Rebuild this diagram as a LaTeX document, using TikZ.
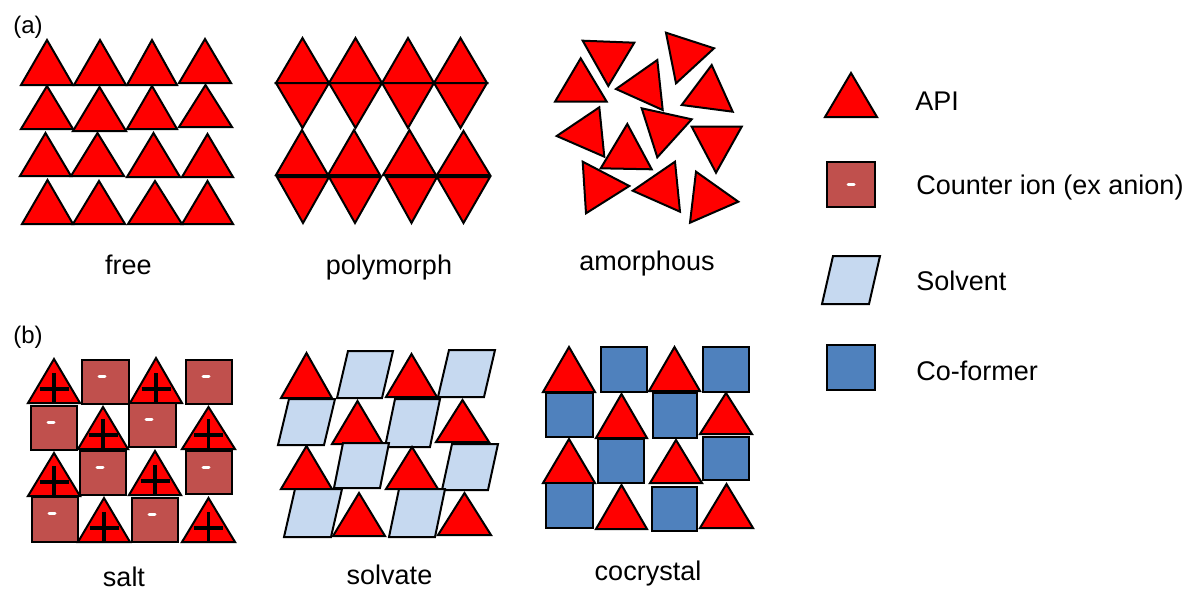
\documentclass[tikz,border=0pt]{standalone}
\usepackage{fontspec}
\setmainfont{Liberation Sans}
\definecolor{apired}{HTML}{FF0000}
\definecolor{ionred}{HTML}{C0504D}
\definecolor{solvblue}{HTML}{C6D9F0}
\definecolor{coblue}{HTML}{4F81BD}
\tikzset{
  api/.style={fill=apired, draw=black, line width=1pt},
  ion/.style={fill=ionred, draw=black, line width=1pt},
  solv/.style={fill=solvblue, draw=black, line width=1pt},
  cof/.style={fill=coblue, draw=black, line width=1pt},
  plusbar/.style={draw=black, line width=1.7pt},
  minusbar/.style={draw=white, line width=1.5pt, line cap=round},
  lbl/.style={font=\fontsize{13.5}{16}\selectfont, inner sep=0pt, anchor=base},
  keytext/.style={font=\fontsize{13.5}{16}\selectfont, inner sep=0pt, anchor=base west},
  panel/.style={font=\fontsize{12}{14}\selectfont, inner sep=0pt, anchor=base west}
}
% upward triangle: left x, right x, apex y, base y
\newcommand\uptri[4]{\filldraw[api] (#1,#4) -- (#2,#4) -- ({(#1+#2)/2},#3) -- cycle;}
% downward triangle: left x, right x, top y, apex y
\newcommand\dntri[4]{\filldraw[api] (#1,#3) -- (#2,#3) -- ({(#1+#2)/2},#4) -- cycle;}
% free triangle given by its three corners
\newcommand\anytri[3]{\filldraw[api] (#1) -- (#2) -- (#3) -- cycle;}
% cation: triangle carrying a plus sign
\newcommand\cation[4]{\uptri{#1}{#2}{#3}{#4}
  \draw[plusbar] ({(#1+#2)/2-14.5},{#4-14}) -- ({(#1+#2)/2+14.5},{#4-14});
  \draw[plusbar] ({(#1+#2)/2},{#4-30}) -- ({(#1+#2)/2},#4);}
% anion: square carrying a minus sign
\newcommand\anion[4]{\filldraw[ion] (#1,#3) rectangle (#2,#4);
  \draw[minusbar] ({#1+17},{#3+16}) -- ({#1+23},{#3+16});}
% co-former square
\newcommand\coform[4]{\filldraw[cof] (#1,#3) rectangle (#2,#4);}
% solvent parallelogram: top-left x, top y, bottom-left x, bottom y, width
\newcommand\solvent[5]{\filldraw[solv] (#1,#2) -- ({#1+#5},#2) -- ({#3+#5},#4) -- (#3,#4) -- cycle;}

\begin{document}
\begin{tikzpicture}[x=0.5pt, y=-0.5pt]
\useasboundingbox (0,0) rectangle (1192,589);

% ---------- (a) free ----------
\node[panel] (pa) at (13,33) {(a)};
\uptri{21}{73}{40}{85}   \uptri{74}{126}{40}{85}  \uptri{127}{177}{40}{85} \uptri{179}{231}{39}{83}
\uptri{21}{73}{86}{129}  \uptri{73}{126}{87}{131} \uptri{127}{177}{86}{129} \uptri{179}{232}{85}{127}
\uptri{20}{71}{133}{176} \uptri{71}{124}{133}{176} \uptri{127}{180}{133}{177} \uptri{182}{233}{134}{177}
\uptri{22}{73}{180}{224} \uptri{73}{125}{181}{224} \uptri{128}{182}{181}{224} \uptri{182}{233}{181}{224}
\node[lbl] (free) at (128.5,274) {free};

% ---------- polymorph ----------
\uptri{276}{329}{38}{83} \uptri{329}{382}{38}{83} \uptri{382}{434}{38}{83} \uptri{434}{487}{38}{83}
\dntri{276}{329}{83}{128} \dntri{329}{382}{83}{128} \dntri{382}{434}{83}{128} \dntri{434}{487}{83}{128}
\uptri{276}{328}{130}{175} \uptri{328}{380}{130}{175} \uptri{383}{436}{130}{175} \uptri{437}{490}{131}{175}
\dntri{277}{329}{177}{223} \dntri{329}{381}{177}{223} \dntri{386}{437}{177}{223} \dntri{437}{490}{177}{223}
\node[lbl] (poly) at (389,274) {polymorph};

% ---------- amorphous ----------
\anytri{582.7,40.7}{634.3,42.7}{608.3,86}
\anytri{666,32.7}{714,48.3}{676,83.3}
\anytri{580.7,58.3}{555,101.7}{606.7,101.7}
\anytri{616,89}{657.3,60}{662.7,110}
\anytri{711.7,65}{681.7,105}{732.7,111.7}
\anytri{556.7,136}{599.3,107.3}{604.3,156.7}
\anytri{641.7,108.3}{691.7,119.3}{657.3,157.3}
\anytri{627.3,124}{600.7,168.3}{651.7,169.3}
\anytri{691.7,126.7}{741.7,126.7}{716,172.7}
\anytri{582.7,161.7}{629.3,186}{586,213.3}
\anytri{632.7,190.7}{675,161.7}{680,211.7}
\anytri{696,171.7}{738.3,201.7}{690,222.7}
\node[lbl] (amor) at (647,270) {amorphous};

% ---------- (b) salt ----------
\node[panel] (pb) at (13,343) {(b)};
\cation{28}{80}{359}{403}  \anion{82}{129}{360}{404}  \cation{130}{182}{358}{403} \anion{186}{232}{360}{404}
\anion{31}{77}{406}{450}   \cation{78}{128}{407}{449} \anion{129}{176}{403}{447}  \cation{182}{235}{407}{449}
\cation{28}{80}{453}{496}  \anion{80}{126}{451}{495}  \cation{129}{181}{451}{495} \anion{186}{232}{451}{494}
\anion{32}{78}{497}{542}   \cation{78}{130}{498}{542} \anion{132}{178}{498}{542}  \cation{182}{235}{498}{542}
\node[lbl] (salt) at (124,586) {salt};

% ---------- solvate ----------
\uptri{281}{332}{353}{398} \solvent{348}{351}{337}{398}{45} \uptri{386}{437}{354}{397} \solvent{449}{350}{438}{397}{46}
\solvent{289}{399}{278}{445}{46} \uptri{332}{383}{401}{444} \solvent{395}{399}{385}{447}{45} \uptri{436}{489}{400}{442}
\uptri{281}{332}{446}{489} \solvent{343}{443}{334}{488}{46} \uptri{386}{438}{447}{489} \solvent{452}{444}{442}{490}{46}
\solvent{295}{489}{284}{537}{47} \uptri{333}{385}{493}{536} \solvent{399}{489}{389}{537}{46} \uptri{438}{491}{493}{535}
\node[lbl] (solv) at (389.5,584) {solvate};

% ---------- cocrystal ----------
\uptri{543}{595}{347}{392} \coform{601}{647}{347}{392} \uptri{649}{700}{347}{391} \coform{703}{749}{347}{392}
\coform{546}{593}{393}{437} \uptri{596}{647}{394}{438} \coform{653}{697}{393}{438} \coform{703}{749}{437}{480} \uptri{700}{752}{393}{434}
\uptri{543}{595}{439}{483} \coform{598}{644}{439}{483} \uptri{650}{702}{440}{483}
\coform{546}{593}{483}{528} \uptri{596}{647}{485}{529} \coform{652}{697}{487}{531} \uptri{700}{753}{484}{528}
\node[lbl] (cocr) at (648,580) {cocrystal};

% ---------- key ----------
\uptri{825}{877}{73}{117}
\node[keytext] (kapi) at (915,110) {API};
\filldraw[ion] (827,162) rectangle (875,207);
\draw[minusbar] (848,184.5) -- (854,184.5);
\node[keytext] (kion) at (916,194) {Counter ion (ex anion)};
\solvent{833}{256}{822}{304}{47}
\node[keytext] (ksolv) at (916,290) {Solvent};
\coform{827}{875}{345}{390}
\node[keytext] (kcof) at (916,380) {Co-former};
\end{tikzpicture}
\end{document}
